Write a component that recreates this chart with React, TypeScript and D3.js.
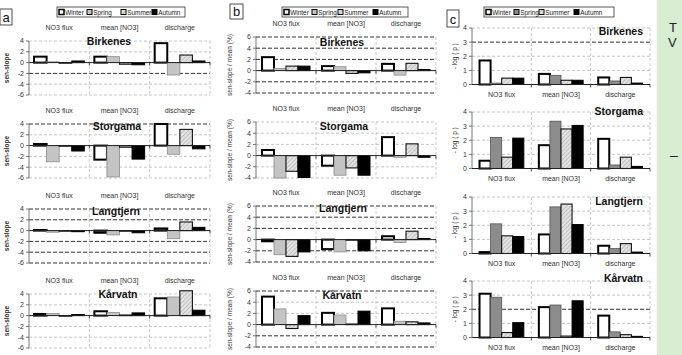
import React from "react";
import * as d3 from "d3";

const seasons = ["Winter", "Spring", "Summer", "Autumn"];
const variables = ["NO3 flux", "mean [NO3]", "discharge"];
const stations = ["Birkenes", "Storgama", "Langtjern", "Kårvatn"];

// (a) sen-slope, rows = variables, columns = seasons
const slopeBirkenes = [[1.1, 0.15, -0.1, 0.3], [1.1, 1.1, -0.3, -0.4], [3.6, -2.3, 1.4, 0.3]];
const slopeStorgama = [[0.3, -3.0, -0.05, -1.0], [-2.6, -5.8, -0.3, -2.5], [4.0, -1.6, 3.0, -0.6]];
const slopeLangtjern = [[0.0, -0.3, -0.05, -0.2], [-0.4, -0.8, -0.05, -0.4], [0.4, -1.5, 1.6, 0.6]];
const slopeKarvatn = [[0.3, 0.4, -0.1, 0.2], [0.8, 0.6, 0.05, 0.5], [3.2, 3.45, 4.6, 1.0]];

// (b) sen-slope / mean (%)
const relBirkenes = [[2.4, 0.4, 0.8, 0.8], [0.8, 0.7, -0.5, -0.4], [1.2, -0.8, 1.3, 0.2]];
const relStorgama = [[1.0, -4.0, -2.8, -3.9], [-1.8, -3.5, -2.2, -3.5], [3.3, -0.3, 2.1, -0.3]];
const relLangtjern = [[-0.3, -2.7, -3.0, -2.2], [-1.7, -2.2, -0.05, -2.0], [0.6, -0.5, 1.5, 0.2]];
const relKarvatn = [[5.0, 2.8, -0.7, 1.6], [2.1, 1.7, 0.1, 2.4], [2.9, 0.6, 0.5, 0.3]];

// (c) -log(p)
const logpBirkenes = [[1.7, 0.1, 0.45, 0.45], [0.75, 0.65, 0.3, 0.3], [0.5, 0.25, 0.5, 0.1]];
const logpStorgama = [[0.55, 2.2, 0.8, 2.15], [1.65, 3.35, 2.8, 3.05], [2.1, 0.25, 0.8, 0.15]];
const logpLangtjern = [[0.1, 2.1, 1.25, 1.2], [1.35, 3.3, 3.5, 2.05], [0.55, 0.35, 0.7, 0.1]];
const logpKarvatn = [[3.1, 2.85, 0.35, 1.05], [2.15, 2.3, 0.1, 2.6], [1.55, 0.4, 0.2, 0.08]];

const ticksA = [-6, -4, -2, 0, 2, 4];
const ticksB = [-4, -2, 0, 2, 4, 6];
const ticksC = [0, 1, 2, 3, 4];

const FONT = "Arial, 'Liberation Sans', sans-serif";

type PanelSpec = {
  letter: string;
  letterBox: [number, number, number, number];
  legend: { x: number; y: number; w: number; items: number[] };
  x0: number;
  x1: number;
  domain: [number, number];
  ticks: number[];
  tops: number[];
  h: number;
  po: number;
  data: number[][][];
  yLabel: string;
  yLabelX: number;
  yLabelBold: boolean;
  labelsAbove: boolean;
  titleX: number[];
  titleAnchor: string;
  titleDy: number[];
  darkLines: number[][];
  springFill: string;
  springStroke: string;
};

const panels: PanelSpec[] = [
  {
    letter: "a",
    letterBox: [0, 9, 12, 16],
    legend: { x: 57, y: 7, w: 128, items: [2, 30, 64, 95] },
    x0: 29,
    x1: 210,
    domain: [-6, 4],
    ticks: ticksA,
    tops: [41, 124, 209, 294],
    h: 54,
    po: 0.4,
    data: [slopeBirkenes, slopeStorgama, slopeLangtjern, slopeKarvatn],
    yLabel: "sen-slope",
    yLabelX: 9,
    yLabelBold: true,
    labelsAbove: true,
    titleX: [109, 117, 116, 118],
    titleAnchor: "middle",
    titleDy: [4, 6, 6, 4],
    darkLines: [[-2], [4], [4, 2, -2, -4, -6], []],
    springFill: "#c4c4c4",
    springStroke: "#8a8a8a",
  },
  {
    letter: "b",
    letterBox: [230, 4, 13, 15],
    legend: { x: 282, y: 7, w: 126, items: [2, 30, 56, 91] },
    x0: 256,
    x1: 436,
    domain: [-4, 6],
    ticks: ticksB,
    tops: [37, 122, 206, 291],
    h: 56,
    po: 0.5,
    data: [relBirkenes, relStorgama, relLangtjern, relKarvatn],
    yLabel: "sen-slope / mean (%)",
    yLabelX: 232,
    yLabelBold: false,
    labelsAbove: true,
    titleX: [342, 344, 343, 342],
    titleAnchor: "middle",
    titleDy: [9, 8, 6, 8],
    darkLines: [[6, 4, 2, -2, -4], [], [6, 4, 2, -2, -4], [6, -2, -4]],
    springFill: "#c4c4c4",
    springStroke: "#8a8a8a",
  },
  {
    letter: "c",
    letterBox: [447, 10, 12, 17],
    legend: { x: 484, y: 7, w: 130, items: [2, 30, 55, 90] },
    x0: 472,
    x1: 650,
    domain: [0, 4],
    ticks: ticksC,
    tops: [28, 112, 197, 281],
    h: 56.5,
    po: 0.68,
    data: [logpBirkenes, logpStorgama, logpLangtjern, logpKarvatn],
    yLabel: "- log ( p )",
    yLabelX: 457,
    yLabelBold: false,
    labelsAbove: false,
    titleX: [643, 643, 643, 643],
    titleAnchor: "end",
    titleDy: [7, 3, 8, 1],
    darkLines: [[3], [], [], [2]],
    springFill: "#8c8c8c",
    springStroke: "#555",
  },
];

function seasonStyle(s: string, spec: PanelSpec) {
  if (s === "Winter") return { fill: "#fff", stroke: "#000", sw: 2 };
  if (s === "Spring") return { fill: spec.springFill, stroke: spec.springStroke, sw: 0.8 };
  if (s === "Summer") return { fill: "url(#hatch)", stroke: "#111", sw: 1.1 };
  return { fill: "#000", stroke: "#000", sw: 1 };
}

function Legend({ spec }: { spec: PanelSpec }) {
  const { x, y, w, items } = spec.legend;
  return (
    <g>
      <rect x={x} y={y} width={w} height={10} fill="#fff" stroke="#333" strokeWidth={0.8} />
      {seasons.map((s, i) => {
        const st = seasonStyle(s, spec);
        const ix = x + items[i];
        return (
          <g key={s}>
            <rect x={ix} y={y + 2.5} width={5} height={5} fill={st.fill} stroke="#000" strokeWidth={s === "Winter" ? 1.5 : 1} />
            <text x={ix + 6.3} y={y + 7.5} fontSize={6.4} fontFamily={FONT} fill="#222">
              {s}
            </text>
          </g>
        );
      })}
    </g>
  );
}

function Subplot({ spec, i }: { spec: PanelSpec; i: number }) {
  const top = spec.tops[i];
  const y = d3.scaleLinear().domain(spec.domain).range([top + spec.h, top]);
  const x = d3.scaleBand().domain(variables).range([spec.x0, spec.x1]);
  const xs = d3.scaleBand().domain(seasons).range([0, x.bandwidth()]).paddingOuter(spec.po);
  const data = spec.data[i];
  const zero = y(0);
  const dark = spec.darkLines[i];
  const boundaries = variables.slice(1).map((v) => x(v) as number).concat([spec.x1]);

  return (
    <g>
      {/* column headings */}
      {variables.map((v) => (
        <text
          key={v}
          x={(x(v) as number) + x.bandwidth() / 2}
          y={spec.labelsAbove ? top - 11 : zero + 12}
          fontSize={7}
          fontFamily={FONT}
          fill="#333"
          textAnchor="middle"
        >
          {v}
        </text>
      ))}
      {/* horizontal grid */}
      {spec.ticks
        .filter((t) => t !== 0)
        .map((t) => {
          const isDark = dark.includes(t);
          return (
            <line
              key={t}
              x1={spec.x0}
              x2={spec.x1}
              y1={y(t)}
              y2={y(t)}
              stroke={isDark ? "#333" : "#b8b8b8"}
              strokeWidth={isDark ? 1 : 0.8}
              strokeDasharray={isDark ? "4,2" : "3,2"}
            />
          );
        })}
      {/* category separators */}
      {boundaries.map((bx, k) => (
        <line key={k} x1={bx} x2={bx} y1={top} y2={top + spec.h} stroke="#bdbdbd" strokeWidth={0.8} strokeDasharray="3,2" />
      ))}
      {/* bars */}
      {variables.map((v, vi) =>
        seasons.map((s, si) => {
          const val = data[vi][si];
          const st = seasonStyle(s, spec);
          const bx = (x(v) as number) + (xs(s) as number);
          const hh = Math.max(0.6, Math.abs(y(val) - zero));
          return (
            <rect
              key={v + s}
              x={bx}
              y={val >= 0 ? zero - hh : zero}
              width={xs.bandwidth()}
              height={hh}
              fill={st.fill}
              stroke={st.stroke}
              strokeWidth={st.sw}
            />
          );
        })
      )}
      {/* zero line */}
      <line x1={spec.x0} x2={spec.x1} y1={zero} y2={zero} stroke="#222" strokeWidth={1} />
      {boundaries.map((bx, k) => (
        <line key={"t" + k} x1={bx} x2={bx} y1={zero} y2={zero + 3} stroke="#222" strokeWidth={0.8} />
      ))}
      {/* y axis */}
      <line x1={spec.x0} x2={spec.x0} y1={top} y2={top + spec.h} stroke="#555" strokeWidth={0.8} />
      {spec.ticks.map((t) => (
        <g key={t}>
          <line x1={spec.x0 - 3} x2={spec.x0} y1={y(t)} y2={y(t)} stroke="#555" strokeWidth={0.8} />
          <text x={spec.x0 - 5} y={y(t) + 2.4} fontSize={7} fontFamily={FONT} fill="#333" textAnchor="end">
            {t}
          </text>
        </g>
      ))}
      {/* y label */}
      <text
        transform={`translate(${spec.yLabelX},${top + spec.h / 2}) rotate(-90)`}
        fontSize={6.5}
        fontFamily={FONT}
        fontWeight={spec.yLabelBold ? "bold" : "normal"}
        fill="#333"
        textAnchor="middle"
      >
        {spec.yLabel}
      </text>
      {/* station title */}
      <text
        x={spec.titleX[i]}
        y={top + spec.titleDy[i]}
        fontSize={10.5}
        fontWeight="bold"
        fontFamily={FONT}
        fill="#111"
        textAnchor={spec.titleAnchor}
      >
        {stations[i]}
      </text>
    </g>
  );
}

export default function App() {
  return (
    <svg
      width={682}
      height={355}
      viewBox="0 0 682 355"
      style={{ position: "absolute", left: 0, top: 0, background: "#fff" }}
    >
      <defs>
        <pattern id="hatch" width={3} height={3} patternUnits="userSpaceOnUse" patternTransform="rotate(45)">
          <rect width={3} height={3} fill="#e4e4e4" />
          <line x1={0} y1={0} x2={0} y2={3} stroke="#9a9a9a" strokeWidth={1} />
        </pattern>
      </defs>
      <rect x={0} y={0} width={682} height={355} fill="#fff" />
      {panels.map((p) => (
        <g key={p.letter}>
          <rect
            x={p.letterBox[0]}
            y={p.letterBox[1]}
            width={p.letterBox[2]}
            height={p.letterBox[3]}
            fill="#fff"
            stroke="#222"
            strokeWidth={0.8}
          />
          <text
            x={p.letterBox[0] + p.letterBox[2] / 2}
            y={p.letterBox[1] + p.letterBox[3] - 3.5}
            fontSize={13}
            fontFamily={FONT}
            textAnchor="middle"
            fill="#111"
          >
            {p.letter}
          </text>
          <Legend spec={p} />
          {stations.map((s, i) => (
            <Subplot key={s} spec={p} i={i} />
          ))}
        </g>
      ))}
      {/* side strip */}
      <rect x={657} y={0} width={25} height={355} fill="#d8eed3" />
      <text x={669} y={32} fontSize={13} fontFamily={FONT} fill="#222">T</text>
      <text x={668} y={47} fontSize={13} fontFamily={FONT} fill="#222">V</text>
      <text x={670} y={160} fontSize={14} fontFamily={FONT} fill="#222">–</text>
    </svg>
  );
}
